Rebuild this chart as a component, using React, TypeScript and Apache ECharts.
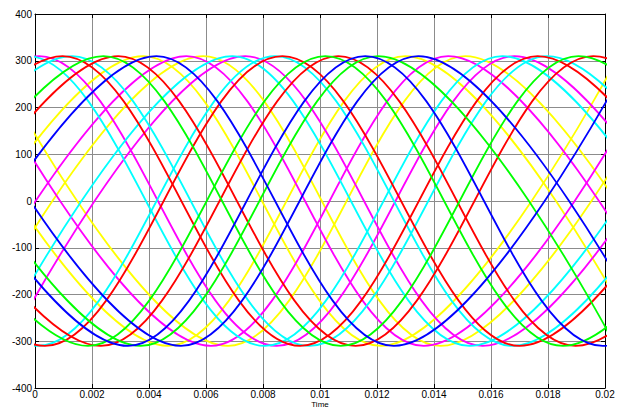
import React, { useEffect, useRef } from "react";
import * as echarts from "echarts";

const xTickLabels = ["0", "0.002", "0.004", "0.006", "0.008", "0.01", "0.012", "0.014", "0.016", "0.018", "0.02"];
const yTickLabels = ["-400", "-300", "-200", "-100", "0", "100", "200", "300", "400"];
const xAxisTitle = "Time";

// peaks / troughs [time (s), value] of each staircase waveform
const cyan1 = [[-0.0086, -310], [-0.00027, 310], [0.00806, -310], [0.0164, 310], [0.02473, -310]];
const magenta1 = [[-0.00818, -310], [0.00015, 310], [0.00848, -310], [0.01682, 310], [0.02515, -310]];
const red1 = [[-0.00736, -310], [0.00097, 310], [0.0093, -310], [0.01764, 310], [0.02597, -310]];
const cyan2 = [[-0.00703, -310], [0.0013, 310], [0.00963, -310], [0.01797, 310], [0.0263, -310]];
const green1 = [[-0.00593, -310], [0.0024, 310], [0.01073, -310], [0.01907, 310], [0.0274, -310]];
const red2 = [[-0.00541, -310], [0.00292, 310], [0.01125, -310], [0.01959, 310], [0.02792, -310]];
const yellow1 = [[-0.00453, -310], [0.0038, 310], [0.01213, -310], [0.02047, 310]];
const blue1 = [[-0.00407, -310], [0.00426, 310], [0.01259, -310], [0.02093, 310]];
const magenta2 = [[-0.00302, -310], [0.00531, 310], [0.01364, -310], [0.02198, 310]];
const yellow2 = [[-0.00243, -310], [0.0059, 310], [0.01423, -310], [0.02257, 310]];
const cyan3 = [[-0.00141, -310], [0.00692, 310], [0.01525, -310], [0.02359, 310]];
const magenta3 = [[-0.00095, -310], [0.00738, 310], [0.01571, -310], [0.02405, 310]];
const cyan4 = [[-0.00823, 310], [0.0001, -310], [0.00843, 310], [0.01676, -310], [0.0251, 310]];
const red3 = [[-0.00798, 310], [0.00035, -310], [0.00868, 310], [0.01701, -310], [0.02535, 310]];
const green2 = [[-0.00647, 310], [0.00186, -310], [0.01019, 310], [0.01852, -310], [0.02686, 310]];
const red4 = [[-0.00602, 310], [0.00231, -310], [0.01064, 310], [0.01897, -310], [0.02731, 310]];
const blue2 = [[-0.00507, 310], [0.00326, -310], [0.01159, 310], [0.01992, -310], [0.02826, 310]];
const green3 = [[-0.00462, 310], [0.00371, -310], [0.01204, 310], [0.02037, -310]];
const yellow3 = [[-0.00367, 310], [0.00466, -310], [0.01299, 310], [0.02132, -310]];
const blue3 = [[-0.00321, 310], [0.00512, -310], [0.01345, 310], [0.02178, -310]];
const magenta4 = [[-0.00216, 310], [0.00617, -310], [0.0145, 310], [0.02283, -310]];
const yellow4 = [[-0.00156, 310], [0.00677, -310], [0.0151, 310], [0.02343, -310]];

const YELLOW = "#ffff00";
const MAGENTA = "#ff00ff";
const CYAN = "#00ffff";
const RED = "#ff0000";
const GREEN = "#00ff00";
const BLUE = "#0000ff";

const waves = [
  { color: YELLOW, data: yellow1 }, { color: YELLOW, data: yellow2 },
  { color: YELLOW, data: yellow3 }, { color: YELLOW, data: yellow4 },
  { color: MAGENTA, data: magenta1 }, { color: MAGENTA, data: magenta2 },
  { color: MAGENTA, data: magenta3 }, { color: MAGENTA, data: magenta4 },
  { color: CYAN, data: cyan1 }, { color: CYAN, data: cyan2 },
  { color: CYAN, data: cyan3 }, { color: CYAN, data: cyan4 },
  { color: RED, data: red1 }, { color: RED, data: red2 },
  { color: RED, data: red3 }, { color: RED, data: red4 },
  { color: GREEN, data: green1 }, { color: GREEN, data: green2 },
  { color: GREEN, data: green3 },
  { color: BLUE, data: blue1 }, { color: BLUE, data: blue2 },
  { color: BLUE, data: blue3 },
];

const FONT = "'Liberation Sans', Arial, sans-serif";

export default function App() {
  const ref = useRef<HTMLDivElement>(null);
  useEffect(() => {
    if (!ref.current) return;
    const chart = echarts.init(ref.current, undefined, { renderer: "svg" });
    const axisLine = { show: true, onZero: false, lineStyle: { color: "#000", width: 1 } };
    const tick = { show: true, inside: true, length: 4, lineStyle: { color: "#000" } };
    chart.setOption({
      animation: false,
      backgroundColor: "#fff",
      grid: { left: 35, right: 16, top: 14, bottom: 21, containLabel: false, outerBoundsMode: "none" },
      graphic: [
        {
          type: "text", x: 320, y: 400, silent: true,
          style: {
            text: xAxisTitle, fill: "#000", fontSize: 8, lineHeight: 8, fontFamily: FONT,
            textAlign: "center", textVerticalAlign: "top",
          },
        },
      ],
      xAxis: [
        {
          type: "value", min: 0, max: 0.02, interval: 0.002,
          axisLine, axisTick: tick,
          axisLabel: {
            color: "#000", fontSize: 10, lineHeight: 10, fontFamily: FONT, margin: 1,
            formatter: (v: number) => xTickLabels[Math.round(v / 0.002)] ?? "",
          },
          splitLine: { show: true, lineStyle: { color: "#8c8c8c", width: 1 } },
        },
        {
          type: "value", min: 0, max: 0.02, interval: 0.002, position: "top",
          axisLine, axisTick: tick, axisLabel: { show: false }, splitLine: { show: false },
        },
      ],
      yAxis: [
        {
          type: "value", min: -400, max: 400, interval: 100,
          axisLine, axisTick: tick,
          axisLabel: {
            color: "#000", fontSize: 10, fontFamily: FONT, margin: 3,
            formatter: (v: number) => yTickLabels[Math.round((v + 400) / 100)] ?? "",
          },
          splitLine: { show: true, lineStyle: { color: "#8c8c8c", width: 1 } },
        },
        {
          type: "value", min: -400, max: 400, interval: 100, position: "right",
          axisLine, axisTick: tick, axisLabel: { show: false }, splitLine: { show: false },
        },
      ],
      series: waves.map((w, i) => ({
        name: "s" + i,
        type: "line",
        data: w.data,
        smooth: 0.36,
        symbol: "none",
        clip: true,
        lineStyle: { color: w.color, width: 1.8 },
        emphasis: { disabled: true },
      })),
    });
    return () => chart.dispose();
  }, []);
  return <div ref={ref} style={{ width: 621, height: 409, position: "absolute", left: 0, top: 0 }} />;
}
